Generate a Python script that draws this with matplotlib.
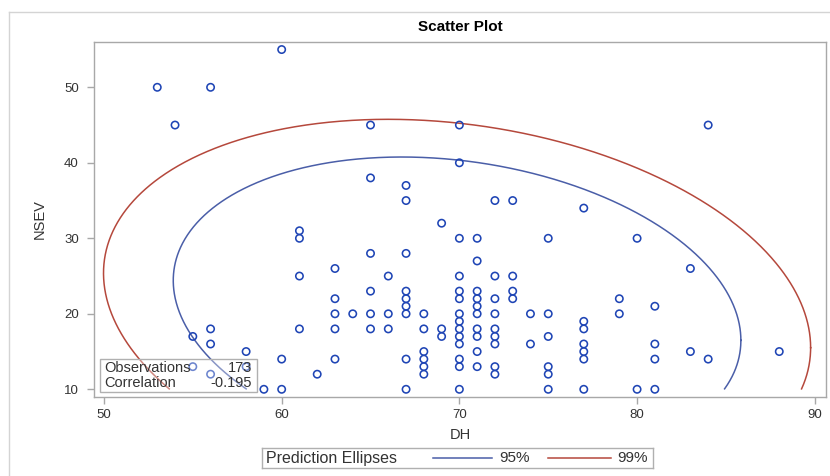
import numpy as np
import matplotlib
matplotlib.use("Agg")
import matplotlib.pyplot as plt
from matplotlib.patches import Rectangle
from matplotlib.lines import Line2D

plt.rcParams['font.family'] = ['Liberation Sans', 'DejaVu Sans']

title = "Scatter Plot"
x_label = "DH"
y_label = "NSEV"

# data grouped by DH column: (DH, [NSEV values])
dh_cols = [53, 54, 55, 56, 58, 59, 60, 61, 62, 63, 64, 65, 66, 67, 68, 69, 70,
           71, 72, 73, 74, 75, 77, 79, 80, 81, 83, 84, 88]
nsev_cols = [
    [50],
    [45],
    [17, 13],
    [50, 18, 16, 12],
    [15, 13],
    [10],
    [55, 14, 10],
    [31, 30, 25, 18],
    [12],
    [26, 22, 20, 18, 14],
    [20],
    [45, 38, 28, 23, 20, 18],
    [25, 20, 18],
    [37, 35, 28, 23, 22, 21, 20, 14, 10],
    [20, 18, 15, 14, 13, 12],
    [32, 18, 17],
    [45, 40, 30, 25, 23, 22, 20, 19, 18, 17, 16, 14, 13, 10],
    [30, 27, 23, 22, 21, 20, 18, 17, 15, 13],
    [35, 25, 22, 20, 18, 17, 16, 13, 12],
    [35, 25, 23, 22],
    [20, 16],
    [30, 20, 17, 13, 12, 10],
    [34, 19, 18, 16, 15, 14, 10],
    [22, 20],
    [30, 10],
    [21, 16, 14, 10],
    [26, 15],
    [45, 14],
    [15],
]
dh = [x for x, ys in zip(dh_cols, nsev_cols) for _ in ys]
nsev = [y for ys in nsev_cols for y in ys]

n_obs = 173
correlation = -0.195
mean_dh = 69.87
mean_nsev = 20.45
sd_dh = 6.43
sd_nsev = 8.18
levels = [0.95, 0.99]
level_labels = ["95%", "99%"]
ellipse_colors = ["#4a5ea8", "#b5483c"]
marker_color = "#1f45b5"

W, H = 830, 476
fig = plt.figure(figsize=(W / 100, H / 100), dpi=100)

# outer faint border
fig.add_artist(Line2D([9 / W, 9 / W], [0, 1 - 12 / H], color="#d4d4d4", lw=1))
fig.add_artist(Line2D([9 / W, 1], [1 - 12 / H, 1 - 12 / H], color="#d4d4d4", lw=1))

L, R, T, B = 94, 826, 42, 397
ax = fig.add_axes([L / W, 1 - B / H, (R - L) / W, (B - T) / H])

ax.scatter(dh, nsev, s=28, facecolors="none", edgecolors=marker_color,
           linewidths=1.15, zorder=3)

# prediction ellipses
m = n_obs - 2
t = np.linspace(0, 2 * np.pi, 1441)
ymin = min(nsev)
for p, col in zip(levels, ellipse_colors):
    f = (m / 2) * ((1 - p) ** (-2 / m) - 1)
    c = 2 * (n_obs - 1) * (n_obs + 1) / (n_obs * (n_obs - 2)) * f
    rc = np.sqrt(c)
    ex = mean_dh + rc * sd_dh * np.cos(t)
    ey = mean_nsev + rc * sd_nsev * (correlation * np.cos(t)
                                     + np.sqrt(1 - correlation ** 2) * np.sin(t))
    ey = np.where(ey >= ymin, ey, np.nan)
    ax.plot(ex, ey, color=col, lw=1.1, zorder=2)

ax.set_xlim(49.44, 90.63)
ax.set_ylim(8.98, 56.0)
ax.set_xticks([50, 60, 70, 80, 90])
ax.set_yticks([10, 20, 30, 40, 50])
for s in ax.spines.values():
    s.set_color("#a8a8a8")
    s.set_linewidth(1)
ax.tick_params(axis="both", colors="#a8a8a8", labelcolor="#333333",
               labelsize=9.5, length=5, width=1)
ax.tick_params(axis="y", pad=6)
ax.tick_params(axis="x", pad=4)

ax.set_xlabel(x_label, fontsize=10.5, color="#333333")
ax.set_ylabel(y_label, fontsize=10.5, color="#333333")
ax.xaxis.set_label_coords(0.5, -0.088)
ax.yaxis.set_label_coords(-0.064, 0.5)

fig.text(((L + R) / 2) / W, 1 - 27 / H, title, ha="center", va="center",
         fontsize=11, fontweight="bold", color="#000000")

# inset statistics box
ax.add_patch(Rectangle((0.0082, 0.014), 0.2145, 0.093, transform=ax.transAxes,
                       facecolor="white", alpha=0.35, edgecolor="none", zorder=4))
ax.add_patch(Rectangle((0.0082, 0.014), 0.2145, 0.093, transform=ax.transAxes,
                       facecolor="none", edgecolor="#b0b0b0", lw=1, zorder=5))
ax.text(0.0137, 0.083, "Observations", transform=ax.transAxes, fontsize=10.5,
        va="center", ha="left", color="#333333", zorder=6)
ax.text(0.216, 0.083, f"{n_obs}", transform=ax.transAxes, fontsize=10.5,
        va="center", ha="right", color="#333333", zorder=6)
ax.text(0.0137, 0.040, "Correlation", transform=ax.transAxes, fontsize=10.5,
        va="center", ha="left", color="#333333", zorder=6)
ax.text(0.216, 0.040, f"{correlation:.3f}", transform=ax.transAxes, fontsize=10.5,
        va="center", ha="right", color="#333333", zorder=6)

# legend bar
lx0, lx1, ly0, ly1 = 262, 653, 448, 468
lax = fig.add_axes([lx0 / W, 1 - ly1 / H, (lx1 - lx0) / W, (ly1 - ly0) / H])
lax.set_xlim(lx0, lx1)
lax.set_ylim(0, 1)
lax.set_xticks([])
lax.set_yticks([])
for s in lax.spines.values():
    s.set_color("#b0b0b0")
    s.set_linewidth(1)
lax.text(266, 0.5, "Prediction Ellipses", fontsize=11.5, va="center", ha="left",
         color="#333333")
seg = [(433, 492, 499), (548, 611, 617)]
for (a, b, tx), col, lab in zip(seg, ellipse_colors, level_labels):
    lax.plot([a, b], [0.5, 0.5], color=col, lw=1.1)
    lax.text(tx, 0.5, lab, fontsize=11, va="center", ha="left", color="#333333")

fig.savefig("out.png", dpi=100)
